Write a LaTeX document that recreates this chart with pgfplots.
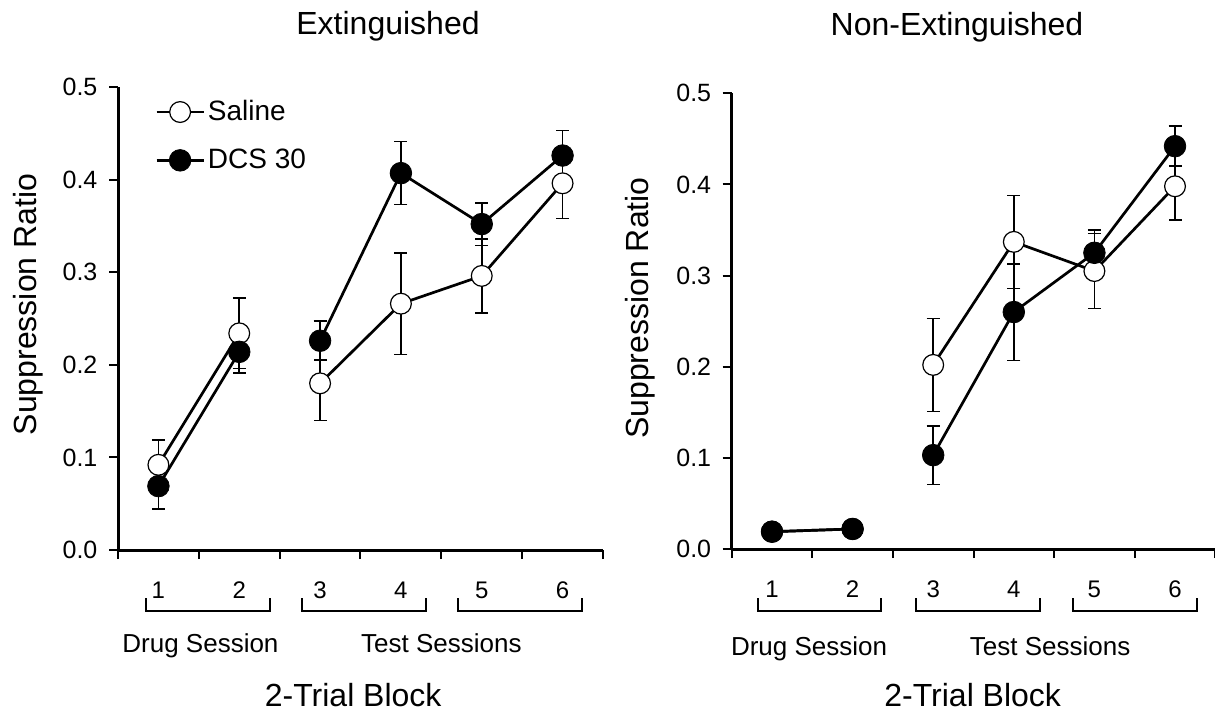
\documentclass[border=0pt]{standalone}
\usepackage{fontspec}
\setmainfont{Liberation Sans}
\usepackage{pgfplots}
\usepackage{pgfplotstable}
\pgfplotsset{compat=1.18}

% x  y  e
\pgfplotstableread{
x y e
1 0.092 0.027
2 0.234 0.038
2.5 nan 0
3 0.180 0.040
4 0.266 0.055
5 0.296 0.040
6 0.396 0.038
}\leftsal
\pgfplotstableread{
x y e
1 0.069 0.025
2 0.214 0.023
2.5 nan 0
3 0.226 0.021
4 0.407 0.034
5 0.352 0.023
6 0.426 0.027
}\leftdcs
\pgfplotstableread{
x y e
1 0.019 0
2 0.022 0
2.5 nan 0
3 0.202 0.051
4 0.337 0.051
5 0.305 0.041
6 0.398 0.037
}\rightsal
\pgfplotstableread{
x y e
1 0.019 0
2 0.022 0
2.5 nan 0
3 0.103 0.032
4 0.260 0.053
5 0.325 0.025
6 0.442 0.022
}\rightdcs

\pgfplotsset{
  panel/.style={
    scale only axis,
    xmin=0.5, xmax=6.5, ymin=0, ymax=0.5,
    axis x line*=bottom, axis y line*=left,
    axis line style={line width=1.5pt, black},
    xtick={0.5,1.5,...,6.5}, xticklabels={},
    ytick={0,0.1,0.2,0.3,0.4,0.5},
    tick align=outside, major tick length=4.5pt,
    tick style={line width=1pt, black},
    clip=false,
    unbounded coords=jump,
    /pgf/number format/fixed,
    /pgf/number format/fixed zerofill,
    /pgf/number format/precision=1,
    /pgf/number format/assume math mode=true,
    yticklabel style={font=\fontsize{12.5pt}{14pt}\selectfont, inner sep=0pt, xshift=-5.6pt},
  },
  ebar/.style={forget plot, only marks, mark=none,
    error bars/.cd, y dir=both, y explicit,
    error bar style={draw=black, line width=0.8pt},
    error mark options={rotate=90, draw=black, mark size=3.25pt, line width=0.8pt}},
  sal/.style={black, line width=1.35pt, mark=*,
    mark options={fill=white, draw=black, line width=0.6pt, mark size=5.2pt}},
  dcs/.style={black, line width=1.35pt, mark=*,
    mark options={fill=black, draw=black, line width=0.4pt, mark size=5.4pt}},
}
\tikzset{
  numlab/.style={anchor=base, font=\fontsize{12pt}{14pt}\selectfont},
  seslab/.style={anchor=base, font=\fontsize{13pt}{15pt}\selectfont},
  blklab/.style={anchor=base, font=\fontsize{16pt}{19pt}\selectfont},
}

\begin{document}
\begin{tikzpicture}
% ---------- left panel ----------
\begin{axis}[panel, at={(59pt,-275pt)}, anchor=south west,
  width=242.5pt, height=231.5pt,
  legend cell align=left,
  legend image code/.code={\draw[mark repeat=2,mark phase=2] plot coordinates {(0pt,0pt) (11.75pt,0pt) (23.5pt,0pt)};},
  legend style={draw=none, fill=none, inner sep=0pt, at={(0.076,0.972)}, anchor=north west,
    font=\fontsize{14pt}{16pt}\selectfont, row sep=12.7pt, column sep=1.5pt,
    nodes={inner sep=0pt}},
]
\addplot[ebar] table[x=x, y=y, y error=e] {\leftsal};
\addplot[ebar] table[x=x, y=y, y error=e] {\leftdcs};
\addplot[sal] table[x=x, y=y] {\leftsal};
\addplot[dcs] table[x=x, y=y] {\leftdcs};
\legend{Saline, DCS 30}
\pgfplotsinvokeforeach{1,...,6}{\node[numlab] at ([yshift=-24pt]axis cs:#1,0) {#1};}
\draw[line width=1pt] ([yshift=-24pt]axis cs:0.85,0) -- ([yshift=-30.5pt]axis cs:0.85,0) -- ([yshift=-30.5pt]axis cs:2.38,0) -- ([yshift=-24pt]axis cs:2.38,0);
\draw[line width=1pt] ([yshift=-24pt]axis cs:2.78,0) -- ([yshift=-30.5pt]axis cs:2.78,0) -- ([yshift=-30.5pt]axis cs:4.31,0) -- ([yshift=-24pt]axis cs:4.31,0);
\draw[line width=1pt] ([yshift=-24pt]axis cs:4.71,0) -- ([yshift=-30.5pt]axis cs:4.71,0) -- ([yshift=-30.5pt]axis cs:6.24,0) -- ([yshift=-24pt]axis cs:6.24,0);
\node[seslab] at ([yshift=-51pt]axis cs:1.52,0) {Drug Session};
\node[seslab] at ([yshift=-51pt]axis cs:4.5,0) {Test Sessions};
\node[blklab] at ([yshift=-78.3pt]axis cs:3.41,0) {2-Trial Block};
\end{axis}
% ---------- right panel ----------
\begin{axis}[panel, at={(365.85pt,-274.5pt)}, anchor=south west,
  width=241.8pt, height=227.85pt]
\addplot[ebar] table[x=x, y=y, y error=e] {\rightsal};
\addplot[ebar] table[x=x, y=y, y error=e] {\rightdcs};
\addplot[sal] table[x=x, y=y] {\rightsal};
\addplot[dcs] table[x=x, y=y] {\rightdcs};
\pgfplotsinvokeforeach{1,...,6}{\node[numlab] at ([yshift=-24pt]axis cs:#1,0) {#1};}
\draw[line width=1pt] ([yshift=-24.5pt]axis cs:0.82,0) -- ([yshift=-31.2pt]axis cs:0.82,0) -- ([yshift=-31.2pt]axis cs:2.35,0) -- ([yshift=-24.5pt]axis cs:2.35,0);
\draw[line width=1pt] ([yshift=-24.5pt]axis cs:2.79,0) -- ([yshift=-31.2pt]axis cs:2.79,0) -- ([yshift=-31.2pt]axis cs:4.32,0) -- ([yshift=-24.5pt]axis cs:4.32,0);
\draw[line width=1pt] ([yshift=-24.5pt]axis cs:4.73,0) -- ([yshift=-31.2pt]axis cs:4.73,0) -- ([yshift=-31.2pt]axis cs:6.27,0) -- ([yshift=-24.5pt]axis cs:6.27,0);
\node[seslab] at ([yshift=-53pt]axis cs:1.46,0) {Drug Session};
\node[seslab] at ([yshift=-53pt]axis cs:4.45,0) {Test Sessions};
\node[blklab] at ([yshift=-78.8pt]axis cs:3.49,0) {2-Trial Block};
\end{axis}
% titles and y labels
\node[anchor=base, font=\fontsize{16pt}{19pt}\selectfont] at (194pt,-17.2pt) {Extinguished};
\node[anchor=base, font=\fontsize{16pt}{19pt}\selectfont] at (478.5pt,-17.6pt) {Non-Extinguished};
\node[rotate=90, anchor=base, font=\fontsize{16pt}{19pt}\selectfont] at (18pt,-152.25pt) {Suppression Ratio};
\node[rotate=90, anchor=base, font=\fontsize{16pt}{19pt}\selectfont] at (324pt,-154pt) {Suppression Ratio};
\pgfresetboundingbox
\path (0pt,0pt) rectangle (607.5pt,-356.5pt);
\end{tikzpicture}
\end{document}
